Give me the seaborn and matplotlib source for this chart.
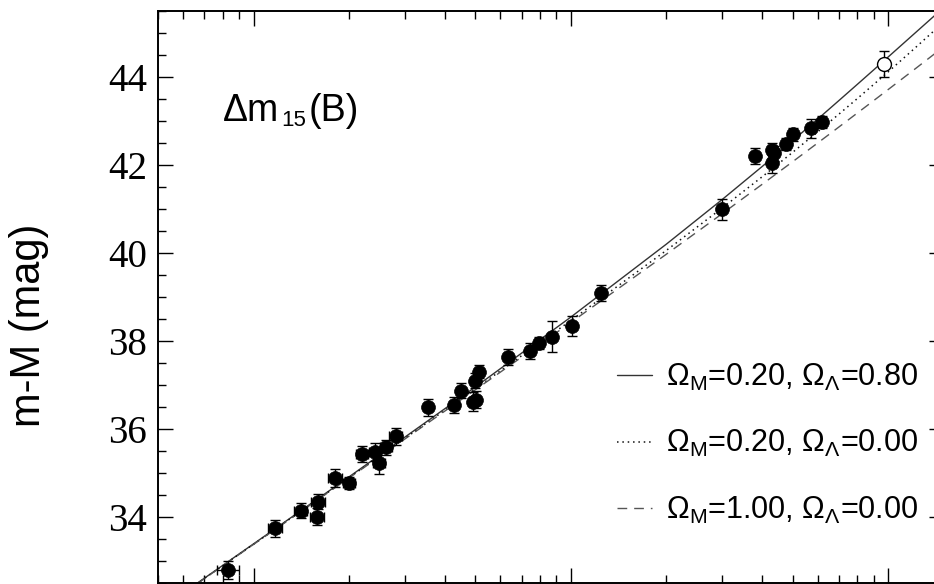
import matplotlib
matplotlib.use("Agg")
import matplotlib.pyplot as plt
from matplotlib.ticker import MultipleLocator, LogLocator, NullFormatter
from matplotlib.transforms import offset_copy
import seaborn as sns
import pandas as pd

# --- SN Ia data (redshift, distance modulus, errors) ---
z_obs = [0.00833, 0.01169, 0.01408, 0.01600, 0.01589, 0.01806, 0.02000, 0.02203,
         0.02415, 0.02487, 0.02616, 0.02807, 0.0354, 0.04295, 0.04498, 0.0490,
         0.0503, 0.04991, 0.0515, 0.0636, 0.0744, 0.0796, 0.0871, 0.1009, 0.1246,
         0.3004, 0.381, 0.430, 0.438, 0.430, 0.477, 0.501, 0.571, 0.618]
mu_obs = [32.80, 33.74, 34.14, 34.35, 34.01, 34.89, 34.78, 35.43,
          35.48, 35.23, 35.58, 35.83, 36.49, 36.54, 36.87, 36.62,
          36.67, 37.10, 37.30, 37.63, 37.77, 37.95, 38.10, 38.34, 39.10,
          40.99, 42.21, 42.33, 42.27, 42.04, 42.48, 42.70, 42.83, 42.98]
mu_err = [0.20, 0.20, 0.17, 0.17, 0.19, 0.20, 0.14, 0.18,
          0.20, 0.25, 0.17, 0.19, 0.20, 0.18, 0.17, 0.21,
          0.20, 0.17, 0.15, 0.18, 0.19, 0.13, 0.36, 0.23, 0.18,
          0.23, 0.18, 0.17, 0.17, 0.23, 0.14, 0.15, 0.21, 0.13]
z_err = [0.00065, 0.0006, 0.0007, 0.0008, 0.0008, 0.0009, 0.0009, 0.0010,
         0.0011, 0.0011, 0.0012, 0.0013, 0, 0, 0, 0,
         0, 0, 0, 0, 0, 0, 0, 0, 0,
         0, 0, 0, 0, 0, 0, 0, 0, 0]

# open symbol (highest redshift SN)
z_open = [0.971]
mu_open = [44.30]
mu_open_err = [0.30]

# --- model curves ---
z_model = [0.0066, 0.01, 0.02, 0.05, 0.1, 0.2, 0.3, 0.4, 0.5, 0.6, 0.7, 0.8, 0.9, 1.0, 1.2, 1.4]
mu_m02_l08 = [32.480, 33.389, 34.912, 36.954, 38.543, 40.201, 41.216, 41.960, 42.552,
              43.044, 43.466, 43.834, 44.160, 44.454, 44.963, 45.393]
mu_m02_l00 = [32.475, 33.380, 34.895, 36.913, 38.465, 40.059, 41.023, 41.727, 42.287,
              42.754, 43.157, 43.511, 43.829, 44.116, 44.623, 45.059]
mu_m10_l00 = [32.472, 33.376, 34.886, 36.891, 38.421, 39.972, 40.894, 41.556, 42.074,
              42.501, 42.865, 43.182, 43.462, 43.714, 44.152, 44.525]

labels = [r"Ω$_\mathregular{M}$=0.20, Ω$_\mathregular{Λ}$=0.80",
          r"Ω$_\mathregular{M}$=0.20, Ω$_\mathregular{Λ}$=0.00",
          r"Ω$_\mathregular{M}$=1.00, Ω$_\mathregular{Λ}$=0.00"]
y_ticks = [34, 36, 38, 40, 42, 44]

sns.set_style("ticks")
plt.rcParams["font.family"] = ["Liberation Sans", "DejaVu Sans"]
plt.rcParams["mathtext.fontset"] = "custom"
plt.rcParams["mathtext.rm"] = "Liberation Sans"
plt.rcParams["mathtext.it"] = "Liberation Sans:italic"
plt.rcParams["mathtext.bf"] = "Liberation Sans:bold"
plt.rcParams["mathtext.sf"] = "Liberation Sans"
plt.rcParams["text.color"] = "black"

fig = plt.figure(figsize=(9.34, 5.84), dpi=100)
ax = fig.add_axes([158 / 934, 1 / 584, (944 - 158) / 934, (583 - 11) / 584])

df_m = pd.DataFrame({"z": z_model, "A": mu_m02_l08, "B": mu_m02_l00, "C": mu_m10_l00})
sns.lineplot(data=df_m, x="z", y="A", ax=ax, color="#333333", lw=1.0,
             linestyle="-", label=labels[0], zorder=2)
sns.lineplot(data=df_m, x="z", y="B", ax=ax, color="#111111", lw=1.1,
             linestyle=(0, (1, 2.5)), label=labels[1], zorder=2)
sns.lineplot(data=df_m, x="z", y="C", ax=ax, color="#555555", lw=1.0,
             linestyle=(0, (7, 5)), label=labels[2], zorder=2)

ax.errorbar(z_obs, mu_obs, yerr=mu_err, xerr=z_err, fmt="none", ecolor="black",
            elinewidth=1.0, capsize=3.8, capthick=1.0, zorder=3)
df_p = pd.DataFrame({"z": z_obs, "mu": mu_obs})
sns.scatterplot(data=df_p, x="z", y="mu", ax=ax, color="black", s=100,
                edgecolor="black", linewidth=0.5, zorder=4, legend=False)
ax.errorbar(z_open, mu_open, yerr=mu_open_err, fmt="o", color="black", mfc="white",
            mec="black", ms=10, mew=1.0, elinewidth=1.0, capsize=3.8, capthick=1.0,
            zorder=4)

ax.set_xscale("log")
ax.set_xlim(0.005, 1.5)
ax.set_ylim(32.5, 45.5)
ax.set_yticks(y_ticks)
ax.set_yticklabels([str(t) for t in y_ticks])
ax.yaxis.set_minor_locator(MultipleLocator(0.5))
ax.xaxis.set_major_locator(LogLocator(base=10))
ax.xaxis.set_minor_locator(LogLocator(base=10, subs=[2, 3, 4, 5, 6, 7, 8, 9]))
ax.xaxis.set_minor_formatter(NullFormatter())
ax.tick_params(which="both", direction="in", top=True, right=True, bottom=True,
               left=True, labelbottom=False, width=1.0, color="black",
               labelcolor="black")
ax.tick_params(which="major", length=11, pad=8)
ax.tick_params(which="minor", length=5.5)
ax.tick_params(axis="y", labelsize=28, labelfontfamily="Liberation Serif")
for s in ax.spines.values():
    s.set_linewidth(1.4)
    s.set_color("black")
ax.set_xlabel("")
ax.set_ylabel("")

fig.text(29 / 934, 1 - 325 / 584, "m-M (mag)", rotation=90, ha="center", va="center",
         fontsize=30, family="Liberation Sans", color="black")

# Δm15(B) label built from three pieces
x0 = (223 - 158) / 786
y0 = (583 - 121) / 572
t1 = ax.text(x0, y0, "Δm", transform=ax.transAxes, fontsize=27, ha="left",
             va="baseline", color="black")
fig.canvas.draw()
r = fig.canvas.get_renderer()
w1 = t1.get_window_extent(r).width * 72 / fig.dpi
t2 = ax.text(x0, y0, "15", fontsize=16, ha="left", va="baseline", color="black",
             transform=offset_copy(ax.transAxes, fig=fig, x=w1 + 1.5, y=-3.5, units="points"))
w2 = t2.get_window_extent(r).width * 72 / fig.dpi
ax.text(x0, y0, "(B)", fontsize=27, ha="left", va="baseline", color="black",
        transform=offset_copy(ax.transAxes, fig=fig, x=w1 + w2 + 3.0, y=0, units="points"))

leg = ax.legend(loc="upper left", bbox_to_anchor=((617 - 158) / 786, (583 - 362) / 572),
                frameon=False, fontsize=22, handlelength=1.15, handletextpad=0.45,
                labelspacing=1.15, borderpad=0, borderaxespad=0)
for t in leg.get_texts():
    t.set_color("black")

fig.savefig("out.png", dpi=100)
